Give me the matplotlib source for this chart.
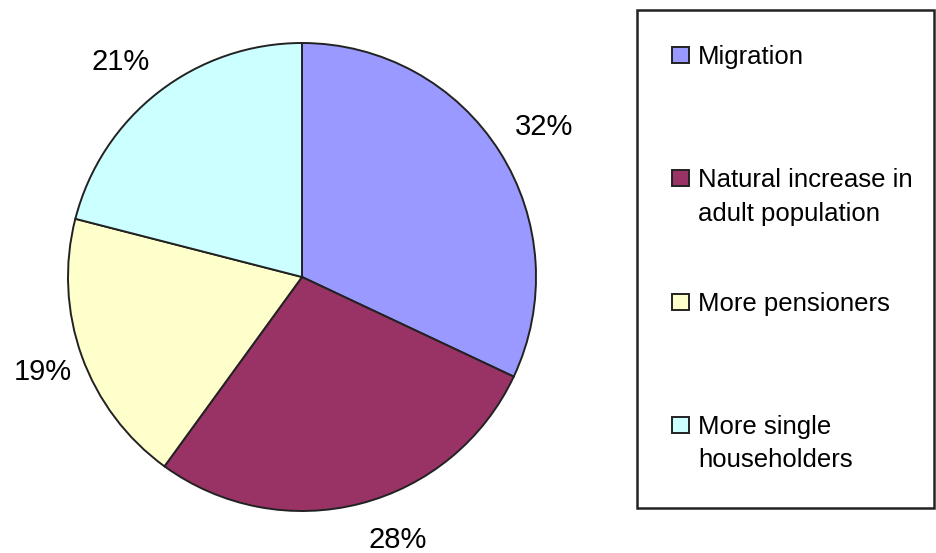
import matplotlib.pyplot as plt
from matplotlib.patches import Rectangle

plt.rcParams['font.family'] = ['Liberation Sans', 'DejaVu Sans']

labels = ['Migration', 'Natural increase in\nadult population',
          'More pensioners', 'More single\nhouseholders']
shares = [32, 28, 19, 21]
colors = ['#9999FF', '#993366', '#FFFFCC', '#CCFFFF']

W, H = 936, 553
fig = plt.figure(figsize=(W / 100, H / 100), dpi=100)

# pie: centre (302, 277) px, radius 234 px; pie() sets limits to +-1.25
r = 234
side = 2.5 * r
ax = fig.add_axes([(302 - side / 2) / W, (H - 277 - side / 2) / H, side / W, side / H])
wedges, texts, autotexts = ax.pie(
    shares, colors=colors, startangle=90, counterclock=False,
    autopct='%d%%', pctdistance=1.2,
    wedgeprops=dict(edgecolor='#222222', linewidth=1.4),
    textprops=dict(fontsize=21, color='black'))
ax.set_aspect('equal')
for t in autotexts:
    t.set_clip_on(False)
# small nudges to follow the original label placement
nudges = [(0.02, 0.0), (0.11, 0.04), (0.02, 0.0), (-0.04, -0.03)]
for t, (dx, dy) in zip(autotexts, nudges):
    x, y = t.get_position()
    t.set_position((x + dx, y + dy))

# legend drawn in pixel coords
lg = fig.add_axes([0, 0, 1, 1])
lg.set_xlim(0, W)
lg.set_ylim(H, 0)
lg.axis('off')
lg.add_patch(Rectangle((637, 10), 297, 498, fill=False, edgecolor='#222222', linewidth=1.8))
y0, step = 55, 123.3
for i, (lab, c) in enumerate(zip(labels, colors)):
    y = y0 + i * step
    lg.add_patch(Rectangle((672, y - 8), 17, 16, facecolor=c, edgecolor='#222222', linewidth=1.4))
    lg.text(698, y - 10, lab, fontsize=18.5, va='top', ha='left', linespacing=1.5)

fig.savefig('out.png', dpi=100)
